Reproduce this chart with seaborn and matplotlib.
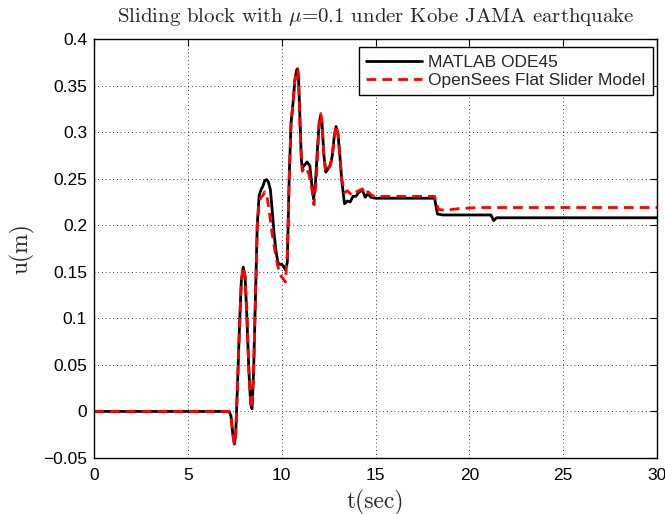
import numpy as np
import pandas as pd
import matplotlib
matplotlib.use("Agg")
import matplotlib.pyplot as plt
import seaborn as sns

# ---- data ----
t_matlab = [0, 7.2, 7.3, 7.4, 7.48, 7.55, 7.65, 7.75, 7.85, 7.95, 8.05, 8.15, 8.25, 8.35, 8.42,
            8.5, 8.6, 8.7, 8.8, 8.9, 9.0, 9.1, 9.2, 9.3, 9.4, 9.5, 9.6, 9.7, 9.8, 9.9, 10.0,
            10.1, 10.2, 10.3, 10.4, 10.5, 10.6, 10.7, 10.8, 10.85, 10.9, 11.0, 11.05, 11.1,
            11.2, 11.35, 11.5, 11.6, 11.7, 11.8, 11.9, 12.0, 12.08, 12.15, 12.25, 12.35, 12.45,
            12.6, 12.7, 12.8, 12.9, 13.0, 13.1, 13.2, 13.35, 13.5, 13.65, 13.8, 13.95, 14.1,
            14.3, 14.45, 14.6, 14.75, 15.0, 18.15, 18.3, 18.6, 21.15, 21.3, 21.45, 30]
u_matlab = [0, 0, -0.005, -0.025, -0.035, -0.025, 0.03, 0.09, 0.14, 0.155, 0.145, 0.10, 0.045,
            0.008, 0.003, 0.04, 0.12, 0.20, 0.232, 0.238, 0.242, 0.248, 0.249, 0.246, 0.238,
            0.215, 0.19, 0.172, 0.160, 0.158, 0.158, 0.156, 0.152, 0.16, 0.25, 0.31, 0.33,
            0.355, 0.367, 0.368, 0.358, 0.30, 0.27, 0.262, 0.264, 0.268, 0.264, 0.245, 0.228,
            0.245, 0.28, 0.31, 0.318, 0.31, 0.275, 0.257, 0.26, 0.265, 0.275, 0.295, 0.306,
            0.298, 0.275, 0.248, 0.223, 0.226, 0.225, 0.231, 0.231, 0.235, 0.238, 0.230,
            0.234, 0.230, 0.229, 0.229, 0.212, 0.211, 0.211, 0.205, 0.208, 0.208]

t_opensees = [0, 7.2, 7.3, 7.4, 7.48, 7.55, 7.65, 7.75, 7.85, 7.95, 8.05, 8.15, 8.25, 8.35, 8.42,
              8.5, 8.6, 8.7, 8.8, 8.9, 9.0, 9.1, 9.2, 9.3, 9.5, 9.7, 9.9, 10.1, 10.2, 10.3,
              10.4, 10.5, 10.6, 10.7, 10.8, 10.85, 10.9, 11.0, 11.1, 11.2, 11.3, 11.45, 11.6,
              11.72, 11.85, 12.0, 12.08, 12.15, 12.25, 12.35, 12.45, 12.6, 12.7, 12.8, 12.9,
              13.0, 13.1, 13.2, 13.35, 13.5, 13.65, 13.8, 14.0, 14.3, 14.45, 14.6, 14.8, 15.0,
              18.15, 18.35, 18.7, 19.5, 20.5, 30]
u_opensees = [0, 0, -0.005, -0.025, -0.035, -0.025, 0.03, 0.09, 0.14, 0.155, 0.145, 0.10, 0.045,
              0.008, 0.003, 0.04, 0.12, 0.20, 0.226, 0.230, 0.232, 0.236, 0.233, 0.22, 0.19,
              0.165, 0.147, 0.142, 0.139, 0.17, 0.25, 0.31, 0.33, 0.355, 0.366, 0.367, 0.355,
              0.29, 0.258, 0.262, 0.262, 0.255, 0.24, 0.222, 0.25, 0.31, 0.32, 0.31, 0.275,
              0.257, 0.26, 0.265, 0.275, 0.295, 0.307, 0.298, 0.275, 0.25, 0.235, 0.237, 0.234,
              0.232, 0.236, 0.239, 0.233, 0.236, 0.232, 0.231, 0.231, 0.217, 0.216, 0.218,
              0.219, 0.219]

labels = ["MATLAB ODE45", "OpenSees Flat Slider Model"]
x_ticks = [0, 5, 10, 15, 20, 25, 30]
y_ticks = [-0.05, 0, 0.05, 0.1, 0.15, 0.2, 0.25, 0.3, 0.35, 0.4]
y_tick_labels = ["\u22120.05", "0", "0.05", "0.1", "0.15", "0.2", "0.25", "0.3", "0.35", "0.4"]

sns.set_theme(style="white")
plt.rcParams["font.family"] = ["Liberation Sans", "DejaVu Sans"]
plt.rcParams["mathtext.fontset"] = "cm"
plt.rcParams["axes.unicode_minus"] = True

df_m = pd.DataFrame({"t": t_matlab, "u": u_matlab})
df_o = pd.DataFrame({"t": t_opensees, "u": u_opensees})

fig = plt.figure(figsize=(6.65, 5.14), dpi=100)
ax = fig.add_axes([94 / 665, 1 - 458 / 514, (657 - 94) / 665, (458 - 39) / 514])

sns.lineplot(data=df_m, x="t", y="u", ax=ax, color="black", lw=2.0, sort=False,
             estimator=None, label=labels[0])
sns.lineplot(data=df_o, x="t", y="u", ax=ax, color="red", lw=2.0, sort=False,
             estimator=None, label=labels[1], dashes=False)
ax.lines[1].set_dashes((3.5, 2.2))

ax.set_xlim(0, 30)
ax.set_ylim(-0.05, 0.4)
ax.set_xticks(x_ticks)
ax.set_yticks(y_ticks)
ax.set_xticklabels([str(v) for v in x_ticks])
ax.set_yticklabels(y_tick_labels)
ax.tick_params(direction="in", length=5, width=0.8, top=True, right=True,
               labelsize=12.5, colors="black")
ax.tick_params(axis="x", pad=7)
ax.tick_params(axis="y", pad=5)
for s in ax.spines.values():
    s.set_visible(True)
    s.set_color("black")
    s.set_linewidth(1.0)
ax.grid(True, color="black", linestyle=(0, (1, 3.5)), linewidth=0.6)

ax.set_title("Sliding block with $\\mu$=0.1 under Kobe JAMA earthquake",
             fontfamily="cmr10", fontsize=15, pad=12)
ax.set_xlabel("t(sec)", fontfamily="cmr10", fontsize=17, labelpad=5)
ax.set_ylabel("u(m)", fontfamily="cmr10", fontsize=17, labelpad=6)

leg = ax.legend(loc="upper right", bbox_to_anchor=(0.993, 0.981), borderaxespad=0,
                fontsize=12.5, frameon=True, fancybox=False, handlelength=3.2,
                handletextpad=0.35, labelspacing=0.15, borderpad=0.45)
leg.get_frame().set_edgecolor("black")
leg.get_frame().set_linewidth(1.0)
leg.get_frame().set_alpha(1)

fig.savefig("out.png", dpi=100)
